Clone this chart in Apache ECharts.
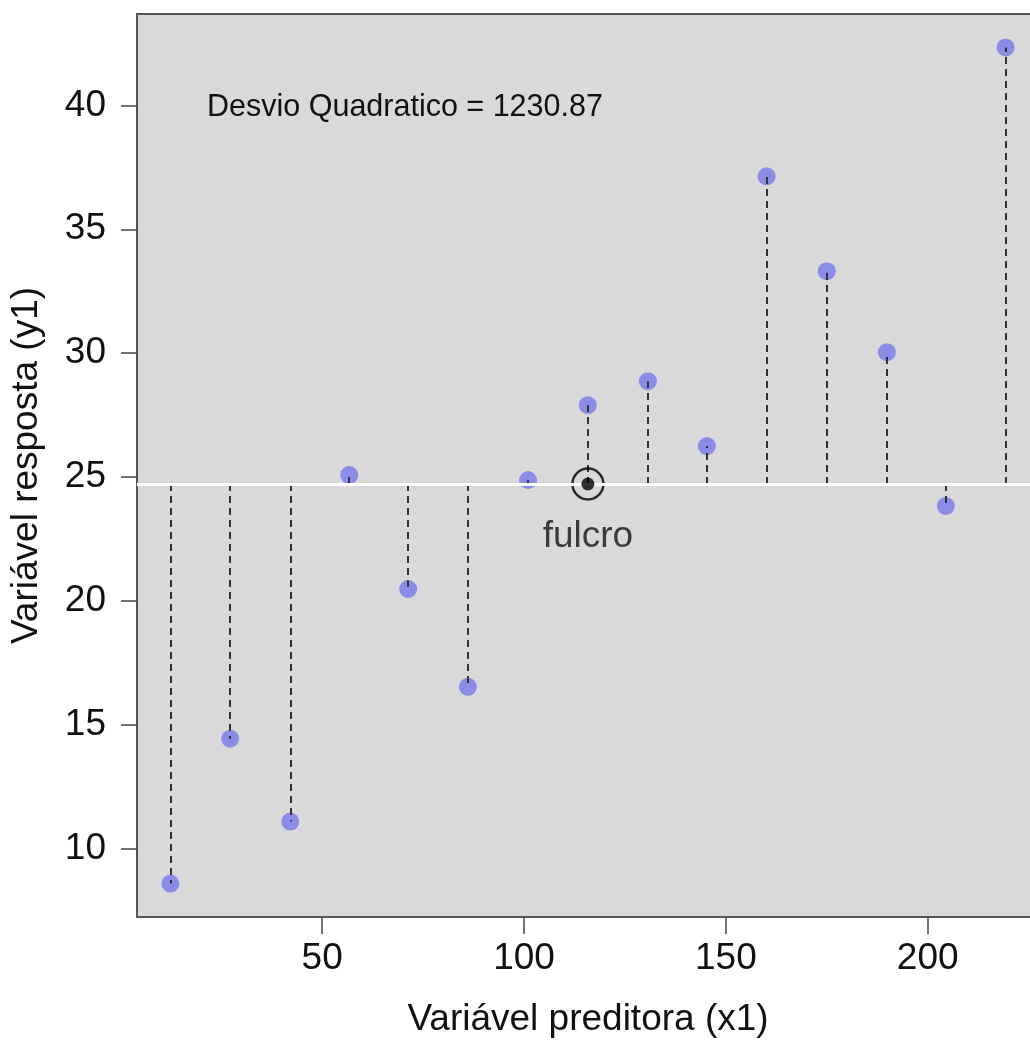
<!DOCTYPE html>
<html>
<head>
<meta charset="utf-8">
<script src="https://cdn.jsdelivr.net/npm/echarts@6/dist/echarts.min.js"></script>
<style>
html,body{margin:0;padding:0;background:#fff;overflow:hidden;width:1030px;height:1043px;}
#chart{width:1044px;height:1043px;}
</style>
</head>
<body>
<div id="chart"></div>
<script>
// Data
const x1 = [12.4, 27.2, 42.1, 56.7, 71.3, 86.1, 101.0, 115.8, 130.7, 145.3, 160.1, 175.0, 189.9, 204.5, 219.3];
const y1 = [8.59, 14.44, 11.09, 25.08, 20.48, 16.53, 24.88, 27.90, 28.87, 26.25, 37.14, 33.31, 30.04, 23.83, 42.34];
const xTicks = [50, 100, 150, 200];
const yTicks = [10, 15, 20, 25, 30, 35, 40];
const annotation = 'Desvio Quadratico = 1230.87';
const fulcroLabel = 'fulcro';
const xTitle = 'Variável preditora (x1)';
const yTitle = 'Variável resposta (y1)';

const mean = a => a.reduce((s, v) => s + v, 0) / a.length;
const mx = mean(x1), my = mean(y1);
const pad = (a, f) => { const lo = Math.min(...a), hi = Math.max(...a), r = hi - lo; return [lo - f * r, hi + f * r]; };
const xr = pad(x1, 0.04), yr = pad(y1, 0.04);

const FONT = 'Liberation Sans, Arial, Helvetica, sans-serif';
const TXT = '#111';

const chart = echarts.init(document.getElementById('chart'), null, {renderer: 'canvas'});
chart.setOption({
  animation: false,
  textStyle: {fontFamily: FONT},
  grid: {
    left: 137, top: 14, right: 5, bottom: 126,
    show: true, backgroundColor: '#d9d9d9', borderColor: '#555', borderWidth: 2
  },
  xAxis: {
    type: 'value', min: xr[0], max: xr[1],
    name: xTitle, nameLocation: 'middle', nameGap: 84,
    nameTextStyle: {fontSize: 37, color: TXT, fontFamily: FONT},
    axisLine: {show: true, lineStyle: {color: '#555', width: 2}},
    axisTick: {show: true, length: 17, customValues: xTicks, lineStyle: {color: '#444', width: 1.5}},
    axisLabel: {customValues: xTicks, fontSize: 37, color: TXT, margin: 23, fontFamily: FONT},
    splitLine: {show: false}
  },
  yAxis: {
    type: 'value', min: yr[0], max: yr[1],
    name: yTitle, nameLocation: 'middle', nameGap: 92, nameRotate: 90,
    nameTextStyle: {fontSize: 37, color: TXT, fontFamily: FONT},
    axisLine: {show: true, lineStyle: {color: '#555', width: 2}},
    axisTick: {show: true, length: 16, customValues: yTicks, lineStyle: {color: '#444', width: 1.5}},
    axisLabel: {customValues: yTicks, fontSize: 37, color: TXT, margin: 31, fontFamily: FONT},
    splitLine: {show: false}
  },
  graphic: [{
    type: 'text', left: 207, top: 92, z: 10,
    style: {text: annotation, fontSize: 30.5, fill: TXT, fontFamily: FONT}
  }],
  series: [
    {
      type: 'line', data: [], z: 1, silent: true,
      markLine: {
        silent: true, symbol: 'none', label: {show: false},
        lineStyle: {color: '#ffffff', width: 3, type: 'solid'},
        data: [{yAxis: my}]
      }
    },
    {
      type: 'scatter', z: 2, symbolSize: 18,
      itemStyle: {color: '#8b8be8', opacity: 1},
      data: x1.map((x, i) => [x, y1[i]])
    },
    {
      type: 'lines', coordinateSystem: 'cartesian2d', z: 3, silent: true,
      lineStyle: {color: '#333', width: 2, type: [7, 5], opacity: 1},
      data: x1.map((x, i) => ({coords: [[x, my], [x, y1[i]]]}))
    },
    {
      type: 'scatter', z: 4, symbolSize: 31, silent: true,
      itemStyle: {color: 'rgba(0,0,0,0)', borderColor: '#000', borderWidth: 2.5},
      label: {show: true, formatter: fulcroLabel, position: 'bottom', distance: 18, fontSize: 37, color: TXT, fontFamily: FONT},
      data: [[mx, my]]
    },
    {
      type: 'scatter', z: 5, symbolSize: 13, silent: true,
      itemStyle: {color: '#000'},
      data: [[mx, my]]
    }
  ]
});
</script>
</body>
</html>
